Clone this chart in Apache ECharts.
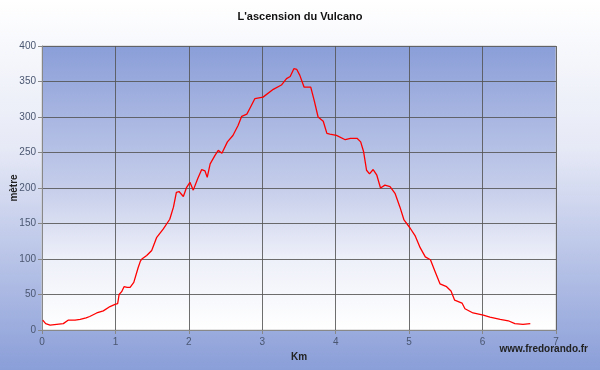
<!DOCTYPE html>
<html>
<head>
<meta charset="utf-8">
<script src="https://cdn.jsdelivr.net/npm/echarts@6/dist/echarts.min.js"></script>
<style>html,body{margin:0;padding:0;background:#fff}#c{width:600px;height:370px}</style>
</head>
<body>
<div id="c"></div>
<script>
var title = "L'ascension du Vulcano";
var xName = "Km";
var yName = "mètre";
var credit = "www.fredorando.fr";
var xTicks = [0, 1, 2, 3, 4, 5, 6, 7];
var yTicks = [0, 50, 100, 150, 200, 250, 300, 350, 400];
var km = [0.01,0.05,0.11,0.2,0.29,0.36,0.45,0.52,0.6,0.65,0.745,0.835,0.926,0.994,1.03,1.05,1.085,1.117,1.16,1.2,1.25,1.31,1.34,1.36,1.426,1.494,1.56,1.65,1.74,1.79,1.83,1.866,1.925,1.97,2.015,2.04,2.06,2.12,2.175,2.22,2.25,2.29,2.356,2.4,2.45,2.525,2.6,2.67,2.72,2.79,2.83,2.9,3.01,3.15,3.26,3.33,3.38,3.43,3.47,3.51,3.57,3.66,3.71,3.76,3.83,3.88,3.92,4.01,4.13,4.2,4.29,4.34,4.38,4.42,4.46,4.51,4.56,4.61,4.67,4.74,4.81,4.875,4.93,5.01,5.08,5.15,5.22,5.29,5.35,5.42,5.51,5.57,5.62,5.72,5.76,5.87,6.01,6.1,6.24,6.35,6.44,6.55,6.65];
var alt = [14,9,7,8,9,14,14,15,17,19,24,27,33,36,37,50,54,61,60,60,67,88,97,100,105,112,130,142,156,173,194,195,188,201,208,206,197,213,226,224,215,234,246,253,249,265,274,288,301,304,312,326,328,339,345,354,357,368,367,359,342,342,322,300,294,277,276,274,268,270,270,265,251,225,220,226,218,200,204,202,192,173,155,144,133,116,103,99,83,65,61,55,42,38,30,24,21,18,15,13,9,8,9];

var data = km.map(function (k, i) { return [k, alt[i]]; });
var chart = echarts.init(document.getElementById('c'), null, {renderer: 'canvas'});
var font = 'Arial, "Liberation Sans", sans-serif';
chart.setOption({
  animation: false,
  backgroundColor: {type: 'linear', x: 0, y: 0, x2: 0, y2: 1, colorStops: [
    {offset: 0, color: '#ffffff'}, {offset: 0.4, color: '#e6e9f6'}, {offset: 1, color: '#8a9ed8'}]},
  title: {text: title, left: 'center', top: 6, textStyle: {fontFamily: font, fontSize: 11, fontWeight: 'bold', color: '#111'}},
  graphic: [{type: 'text', right: 12, top: 344, style: {text: credit, font: 'bold 10px ' + font, fill: '#222'}}],
  grid: {left: 42, right: 44, top: 46, bottom: 40, containLabel: false, outerBoundsMode: 'none',
    show: true, borderColor: '#c8c8c8', borderWidth: 1,
    backgroundColor: {type: 'linear', x: 0, y: 0, x2: 0, y2: 1, colorStops: [
      {offset: 0, color: '#8a9ed8'}, {offset: 0.5, color: '#c5cdea'}, {offset: 0.75, color: '#eef0f9'}, {offset: 1, color: '#ffffff'}]}},
  xAxis: {type: 'value', min: 0, max: 7, interval: 1, name: xName, nameLocation: 'middle', nameGap: 22,
    nameMoveOverlap: false,
    nameTextStyle: {fontFamily: font, fontSize: 10, fontWeight: 'bold', color: '#222'},
    axisLine: {show: true, lineStyle: {color: '#888', width: 1}},
    axisTick: {show: true, length: 4, lineStyle: {color: '#888'}},
    axisLabel: {fontFamily: font, fontSize: 10, color: '#4a5670', margin: 7,
      formatter: function (v) { return xTicks.indexOf(v) >= 0 ? String(v) : ''; }},
    splitLine: {show: true, lineStyle: {color: '#555', width: 1, opacity: 0.85}}},
  yAxis: {type: 'value', min: 0, max: 400, interval: 50, name: yName, nameLocation: 'middle', nameGap: 23,
    nameRotate: 90, nameMoveOverlap: false,
    nameTextStyle: {fontFamily: font, fontSize: 10, fontWeight: 'bold', color: '#222'},
    axisLine: {show: true, lineStyle: {color: '#888', width: 1}},
    axisTick: {show: true, length: 4, lineStyle: {color: '#888'}},
    axisLabel: {fontFamily: font, fontSize: 10, color: '#4a5670', margin: 6,
      formatter: function (v) { return yTicks.indexOf(v) >= 0 ? String(v) : ''; }},
    splitLine: {show: true, lineStyle: {color: '#555', width: 1, opacity: 0.85}}},
  series: [{type: 'line', data: data, showSymbol: false, smooth: false,
    lineStyle: {color: '#ff0000', width: 1.3}}]
});
</script>
</body>
</html>
